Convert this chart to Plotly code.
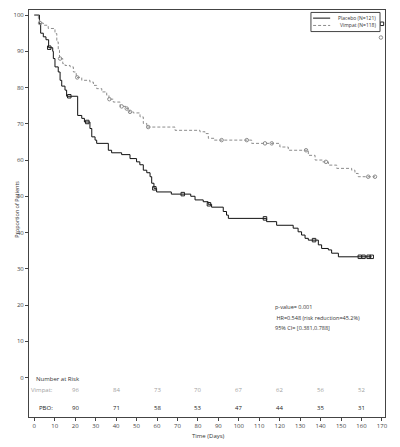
import plotly.graph_objects as go

# Kaplan-Meier step points (time in days, % free of event)
pbo_time = [0, 2.5, 3.1, 4.4, 5.7, 7.0, 9.0, 9.3, 10.1, 11.7, 12.6, 13.4, 15.0, 15.8,
            21.2, 23.2, 24.5, 27.2, 28.1, 29.7, 30.5, 36.2, 37.8, 42.7, 46.8, 50.0,
            51.6, 53.3, 55.0, 56.6, 57.4, 58.5, 59.8, 67.0, 76.5, 78.6, 82.6, 85.0,
            86.7, 92.4, 94.0, 94.9, 113.6, 118.5, 126.6, 129.0, 130.7, 132.4, 134.0,
            138.9, 140.5, 143.8, 145.4, 148.7, 165.0]
pbo_surv = [100, 97.6, 95.0, 94.0, 93.2, 91.0, 90.0, 88.0, 85.7, 84.3, 82.0, 80.4, 79.3, 77.6,
            72.3, 71.5, 70.5, 68.7, 66.4, 65.5, 64.6, 62.7, 62.0, 61.5, 60.4, 59.5,
            58.7, 57.2, 56.5, 55.4, 53.6, 52.2, 51.2, 50.6, 50.0, 49.0, 48.5, 47.8,
            47.0, 45.8, 44.8, 43.9, 43.0, 42.0, 41.2, 40.2, 39.3, 38.4, 37.9,
            36.6, 35.6, 35.2, 34.3, 33.3, 33.3]
pbo_cens_time = [7.3, 17.1, 25.9, 58.7, 72.6, 85.4, 112.8, 136.8, 159.2, 161.0, 163.5, 165.0, 170.0]
pbo_cens_surv = [91.0, 77.6, 70.5, 52.2, 50.6, 47.8, 43.9, 37.9, 33.3, 33.3, 33.3, 33.3, 97.6]

vim_time = [0, 2.0, 2.6, 4.4, 6.8, 10.1, 11.0, 11.7, 12.3, 13.9, 15.0, 17.5, 19.1, 20.5,
            23.2, 27.2, 28.9, 30.5, 33.0, 35.4, 36.5, 38.6, 42.0, 45.0, 46.5, 48.4,
            51.7, 53.3, 55.0, 68.8, 81.0, 83.5, 85.1, 88.0, 106.3, 120.1, 124.2,
            134.0, 137.3, 141.0, 143.8, 147.9, 155.2, 156.8, 158.4, 166.6]
vim_surv = [100, 99.0, 97.8, 97.2, 96.3, 94.9, 92.6, 90.3, 88.0, 86.6, 86.1, 85.7, 84.3, 82.8,
            82.0, 81.5, 80.6, 79.7, 78.8, 77.9, 76.8, 76.0, 74.8, 74.2, 73.3, 73.0,
            71.9, 70.1, 69.1, 68.2, 67.8, 67.3, 66.0, 65.5, 64.6, 63.6, 62.7,
            61.3, 60.0, 59.5, 58.6, 57.7, 57.2, 56.3, 55.4, 55.4]
vim_cens_time = [2.8, 12.6, 21.0, 36.7, 42.7, 45.2, 46.8, 55.7, 91.6, 103.9, 112.8, 116.1,
                 132.9, 142.6, 163.3, 166.6, 169.5]
vim_cens_surv = [97.8, 88.0, 82.8, 76.8, 74.8, 74.2, 73.3, 69.1, 65.5, 65.5, 64.6, 64.6,
                 62.7, 59.5, 55.4, 55.4, 93.8]

# number at risk
risk_days = [20, 40, 60, 80, 100, 120, 140, 160]
risk_vimpat = [96, 84, 73, 70, 67, 62, 56, 52]
risk_pbo = [90, 71, 58, 53, 47, 44, 35, 31]

stats_lines = ["p-value= 0.001", " HR=0.548 (risk reduction=45.2%)", "95% CI= [0.381,0.788]"]
legend_names = ["Placebo (N=121)", "Vimpat (N=118)"]

FONT = "Open Sans"
PBO_COLOR = "#111111"
VIM_COLOR = "#8c8c8c"
VIM_DASH = "3px,2px"

fig = go.Figure()

fig.add_trace(
    go.Scatter(
        x=pbo_time, y=pbo_surv, mode="lines", line_shape="hv",
        name=legend_names[0], line=dict(color=PBO_COLOR, width=1),
    )
)
fig.add_trace(
    go.Scatter(
        x=vim_time, y=vim_surv, mode="lines", line_shape="hv",
        name=legend_names[1], line=dict(color=VIM_COLOR, width=1, dash=VIM_DASH),
    )
)
fig.add_trace(
    go.Scatter(
        x=pbo_cens_time, y=pbo_cens_surv, mode="markers", cliponaxis=False,
        marker=dict(symbol="square-open", size=3.5, color="#222222", line=dict(width=1)),
    )
)
fig.add_trace(
    go.Scatter(
        x=vim_cens_time, y=vim_cens_surv, mode="markers", cliponaxis=False,
        marker=dict(symbol="circle-open", size=3.5, color=VIM_COLOR, line=dict(width=1)),
    )
)

# number at risk table inside the plot
fig.add_annotation(x=0, y=-0.4, text="Number at Risk", showarrow=False,
                   xanchor="left", font=dict(size=6, color="#333333"))
fig.add_annotation(x=10, y=-3.5, text="Vimpat:", showarrow=False,
                   xanchor="right", font=dict(size=6, color="#a0a0a0"))
fig.add_annotation(x=10, y=-8.4, text="PBO:", showarrow=False,
                   xanchor="right", font=dict(size=6, color="#222222"))
for d, v, p in zip(risk_days, risk_vimpat, risk_pbo):
    fig.add_annotation(x=d, y=-3.5, text=str(v), showarrow=False,
                       font=dict(size=6, color="#a0a0a0"))
    fig.add_annotation(x=d, y=-8.4, text=str(p), showarrow=False,
                       font=dict(size=6, color="#222222"))

for i, line in enumerate(stats_lines):
    fig.add_annotation(x=116.6, y=19.4 - 2.9 * i, text=line, showarrow=False,
                       xanchor="left", font=dict(size=5.5, color="#333333"))

# hand-drawn legend box (plotly's own legend is too tall at this size)
fig.add_shape(type="rect", xref="paper", yref="paper", x0=0.792, x1=0.986, y0=0.947, y1=0.994,
              line=dict(color="#444444", width=1), fillcolor="white", layer="above")
for name, color, dash, ly in [(legend_names[0], PBO_COLOR, "solid", 0.980),
                              (legend_names[1], VIM_COLOR, VIM_DASH, 0.962)]:
    fig.add_shape(type="line", xref="paper", yref="paper", x0=0.798, x1=0.846, y0=ly, y1=ly,
                  line=dict(color=color, width=1, dash=dash), layer="above")
    fig.add_annotation(xref="paper", yref="paper", x=0.978, y=ly, text=name, showarrow=False,
                       xanchor="right", yanchor="middle", borderpad=0,
                       font=dict(size=5, color="#333333"))

# axis titles
fig.add_annotation(xref="paper", yref="paper", x=0.503, y=-0.059, text="Time (Days)",
                   showarrow=False, borderpad=0, font=dict(size=6, color="#333333"))
fig.add_annotation(xref="paper", yref="paper", x=-0.05, y=0.51, text="Proportion of Patients",
                   showarrow=False, textangle=-90, font=dict(size=5.5, color="#333333"))

# page body has an 8px margin, so the figure is shifted by 8px
fig.update_layout(
    template="plotly_white",
    width=392,
    height=439,
    margin=dict(l=21, r=15, t=1.5, b=30),
    font=dict(family=FONT, size=6, color="#333333"),
    plot_bgcolor="white",
    showlegend=False,
)

fig.update_xaxes(
    range=[-2.6, 171.5], tickvals=list(range(0, 171, 10)), ticks="outside", ticklen=3,
    tickcolor="#444444", showline=True, mirror=True, linecolor="#444444", linewidth=1,
    showgrid=False, zeroline=False, tickfont=dict(size=6, color="#444444"),
)
fig.update_yaxes(
    range=[-10.9, 101.4], tickvals=list(range(0, 101, 10)), ticks="outside", ticklen=3,
    tickcolor="#444444", showline=True, mirror=True, linecolor="#444444", linewidth=1,
    showgrid=False, zeroline=False, tickfont=dict(size=6, color="#444444"),
)

fig.write_html("out.html")
